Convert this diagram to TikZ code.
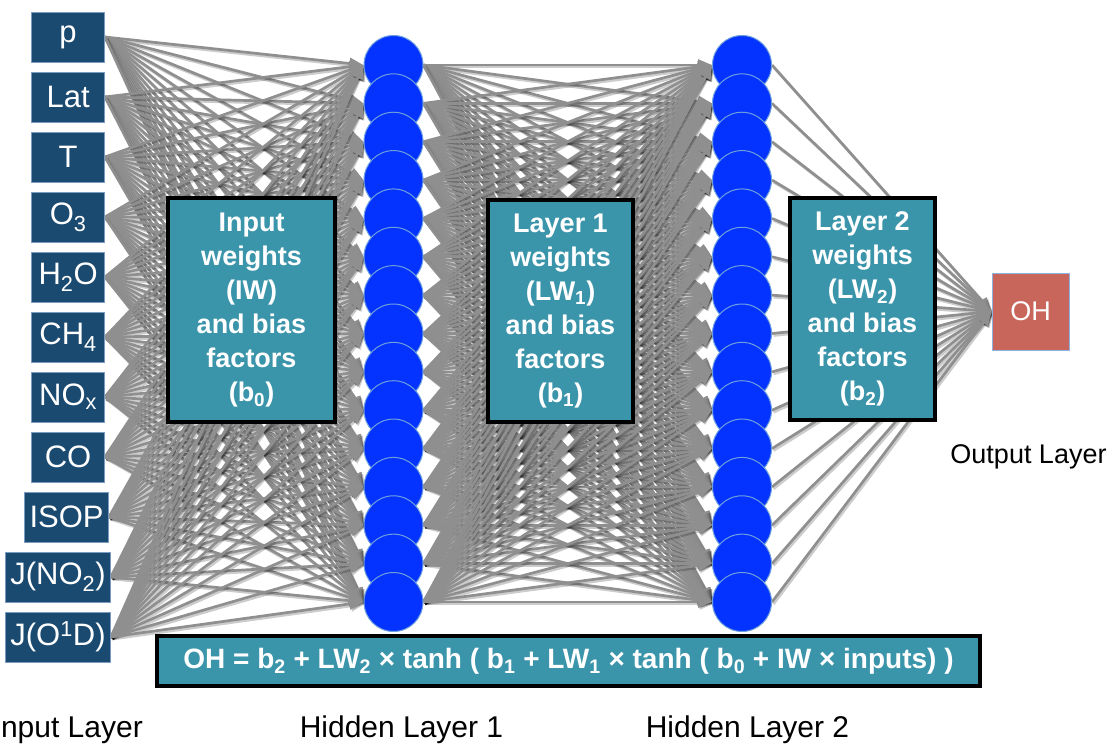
\documentclass[tikz,border=0pt]{standalone}
\usepackage{fontspec}
\setmainfont{Liberation Sans}
\usetikzlibrary{arrows.meta,backgrounds}

\definecolor{inputblue}{RGB}{27,74,112}
\definecolor{inputedge}{RGB}{122,156,192}
\definecolor{wboxfill}{RGB}{58,148,170}
\definecolor{neuron}{RGB}{4,51,255}
\definecolor{neuronedge}{RGB}{110,160,220}
\definecolor{wire}{RGB}{143,143,143}
\definecolor{ohred}{RGB}{201,102,91}
\definecolor{ohedge}{RGB}{142,180,227}

\begin{document}
\begin{tikzpicture}[x=1pt,y=-1pt,
  inbox/.style={draw=inputedge, line width=0.8pt, fill=inputblue, text=white,
    minimum width=73pt, minimum height=50pt, inner xsep=5pt, inner ysep=0pt,
    anchor=east, font=\fontsize{31}{36}\selectfont},
  neuronnode/.style={circle, draw=neuronedge, line width=1pt, fill=neuron,
    minimum size=59pt, inner sep=0pt},
  wbox/.style={draw=black, line width=3.5pt, fill=wboxfill, text=white,
    align=center, font=\bfseries\fontsize{27}{34}\selectfont, inner sep=0pt},
  link/.style={wire, line width=2.7pt, -{Triangle[length=14pt,width=11pt]}},
  linkshadow/.style={black, opacity=0.2, line width=2.7pt,
    -{Triangle[length=14pt,width=11pt]},
    transform canvas={shift={(1.5pt,-2pt)}}},
  caption/.style={font=\fontsize{30}{34}\selectfont, inner sep=0pt}
]
\useasboundingbox (0,0) rectangle (1113,744);

% input layer
\foreach \i/\lab/\xr in {1/p/105, 2/Lat/105, 3/T/105, 4/{O\textsubscript{3}}/105,
    5/{H\textsubscript{2}O}/105, 6/{CH\textsubscript{4}}/105, 7/{NO\textsubscript{x}}/105,
    8/CO/105, 9/ISOP/109, 10/{J(NO\textsubscript{2})}/111, 11/{J(O\textsuperscript{1}D)}/111} {
  \node[inbox] (in\i) at (\xr, {37+60*(\i-1)}) {\lab};
}

% hidden layers (lower neurons overlap the upper ones)
\foreach \j in {1,...,15} {
  \node[neuronnode] (ha\j) at (393.5, {65+38.357*(\j-1)}) {};
}
\foreach \j in {1,...,15} {
  \node[neuronnode] (hb\j) at (742, {65+38.357*(\j-1)}) {};
}

% output
\node[draw=ohedge, line width=0.8pt, fill=ohred, text=white, minimum size=77pt,
  inner sep=0pt, font=\fontsize{27}{32}\selectfont] (out) at (1030.5,311.5) {OH};

% weight connections
\begin{pgfonlayer}{background}
  \foreach \i in {1,...,11} {
    \foreach \j in {1,...,15} {
      \draw[linkshadow] (in\i.east) -- (ha\j.west);
      \draw[link] (in\i.east) -- (ha\j.west);
    }
  }
  \foreach \i in {1,...,15} {
    \foreach \j in {1,...,15} {
      \draw[linkshadow] (ha\i.east) -- (hb\j.west);
      \draw[link] (ha\i.east) -- (hb\j.west);
    }
  }
  \foreach \i in {1,...,15} {
    \draw[linkshadow] (hb\i.east) -- (out.west);
    \draw[link] (hb\i.east) -- (out.west);
  }
\end{pgfonlayer}

% weight boxes
\node[wbox, minimum width=167pt, minimum height=224pt] (iw) at (251.5,310)
  {\rule{0pt}{6pt}Input\\weights\\(IW)\\and bias\\factors\\(b\textsubscript{0})};
\node[wbox, minimum width=145pt, minimum height=222pt] (lw1) at (560.5,311)
  {\rule{0pt}{6pt}Layer 1\\weights\\(LW\textsubscript{1})\\and bias\\factors\\(b\textsubscript{1})};
\node[wbox, minimum width=145pt, minimum height=222pt] (lw2) at (862.5,309)
  {\rule{0pt}{6pt}Layer 2\\weights\\(LW\textsubscript{2})\\and bias\\factors\\(b\textsubscript{2})};

% network equation
\node[wbox, minimum width=823pt, minimum height=50pt,
  font=\bfseries\fontsize{28}{32}\selectfont] (formula) at (568.5,661)
  {OH = b\textsubscript{2} + LW\textsubscript{2} × tanh ( b\textsubscript{1} + LW\textsubscript{1} × tanh ( b\textsubscript{0} + IW × inputs) )};

% layer captions
\node[caption, anchor=east] (cin) at (143,730) {Input Layer};
\node[caption] (ch1) at (401.5,730) {Hidden Layer 1};
\node[caption] (ch2) at (747.5,730) {Hidden Layer 2};
\node[caption, font=\fontsize{27}{32}\selectfont] (cout) at (1028.5,457) {Output Layer};
\end{tikzpicture}
\end{document}
